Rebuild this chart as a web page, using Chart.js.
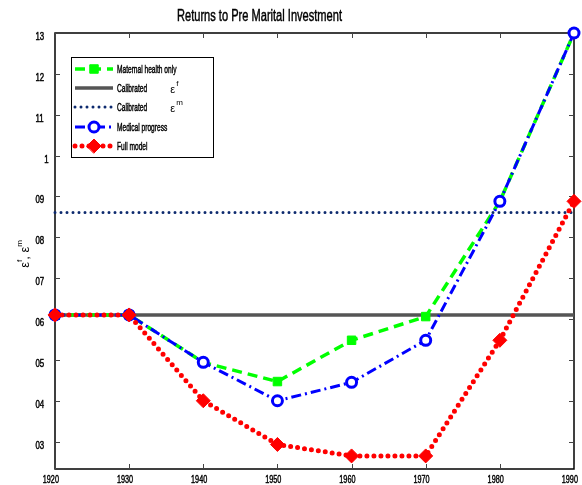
<!DOCTYPE html>
<html>
<head>
<meta charset="utf-8">
<script src="https://cdn.jsdelivr.net/npm/chart.js@4.4.1/dist/chart.umd.min.js"></script>
<style>
  html, body { margin: 0; padding: 0; background: #fff; }
  #wrap { width: 582px; height: 485px; }
</style>
</head>
<body>
<div id="wrap"><canvas id="chart" width="582" height="485"></canvas></div>
<script>
// values
const years = [1920, 1930, 1940, 1950, 1960, 1970, 1980, 1990]
const maternalHealth = [0.61, 0.61, 0.494, 0.447, 0.548, 0.606, 0.888, 1.30]
const medicalProgress = [0.61, 0.61, 0.494, 0.40, 0.445, 0.548, 0.888, 1.30]
const fullModel = [0.61, 0.61, 0.40, 0.293, 0.265, 0.265, 0.548, 0.888]
const calibratedEpsF = 0.61
const calibratedEpsM = 0.861

const yTicks = [0.3, 0.4, 0.5, 0.6, 0.7, 0.8, 0.9, 1, 1.1, 1.2, 1.3]
const yTickLabels = ['03', '04', '05', '06', '07', '08', '09', '1', '11', '12', '13']
const xTickLabels = ['1920', '1930', '1940', '1950', '1960', '1970', '1980', '1990']
const titleText = 'Returns to Pre Marital Investment'
const legendLabels = ['Maternal health only', 'Calibrated', 'Calibrated', 'Medical progress', 'Full model']
const legendSymbols = [null, 'f', 'm', null, null]

const FONT = '"Liberation Sans", Arial, sans-serif'

function textWidth(ctx, text, px) {
  ctx.save()
  ctx.font = px + 'px ' + FONT
  const w = ctx.measureText(text).width
  ctx.restore()
  return w
}

// the reference renders its text horizontally squeezed, left anchored
function squish(ctx, text, x, y, px, sx) {
  ctx.save()
  ctx.font = px + 'px ' + FONT
  ctx.textAlign = 'left'
  ctx.textBaseline = 'alphabetic'
  ctx.translate(x, y)
  ctx.scale(sx, 1)
  ctx.fillText(text, 0, 0)
  ctx.strokeStyle = ctx.fillStyle
  ctx.lineWidth = 0.45
  ctx.strokeText(text, 0, 0)
  ctx.restore()
}

const pts = vals => years.map((yr, i) => ({x: yr, y: vals[i]}))
const flat = v => [{x: years[0], y: v}, {x: years[years.length - 1], y: v}]

const datasets = [
  {
    label: legendLabels[0], data: pts(maternalHealth), order: 3,
    borderColor: '#00ff00', borderWidth: 3.5, borderDash: [10, 6],
    pointStyle: 'rect', pointRadius: 6, pointBackgroundColor: '#00ff00', pointBorderColor: '#00ff00', pointBorderWidth: 1
  },
  {
    label: legendLabels[1], data: flat(calibratedEpsF), order: 5,
    borderColor: '#555555', borderWidth: 3.5, pointRadius: 0
  },
  {
    label: legendLabels[2], data: flat(calibratedEpsM), order: 4,
    borderColor: '#0d2a6e', borderWidth: 3, borderDash: [0, 6], borderCapStyle: 'round', pointRadius: 0
  },
  {
    label: legendLabels[3], data: pts(medicalProgress), order: 2,
    borderColor: '#0000ff', borderWidth: 3, borderDash: [10, 4, 2, 4],
    pointStyle: 'circle', pointRadius: 5, pointBackgroundColor: '#ffffff', pointBorderColor: '#0000ff', pointBorderWidth: 3
  },
  {
    label: legendLabels[4], data: pts(fullModel), order: 1,
    borderColor: '#ff0000', borderWidth: 5, borderDash: [0, 7], borderCapStyle: 'round',
    pointStyle: 'rectRot', pointRadius: 7, pointBackgroundColor: '#ff0000', pointBorderColor: '#ff0000', pointBorderWidth: 1
  }
]

const axesBox = {
  id: 'axesBox',
  beforeDatasetsDraw(chart) {
    const {ctx, chartArea: a, scales: {x, y}} = chart
    ctx.save()
    ctx.strokeStyle = '#000'
    ctx.lineWidth = 1.5
    ctx.strokeRect(a.left, a.top, a.right - a.left, a.bottom - a.top)
    ctx.lineWidth = 1
    ctx.strokeStyle = '#444'
    ctx.beginPath()
    years.forEach(v => {
      const px = Math.round(x.getPixelForValue(v)) + 0.5
      ctx.moveTo(px, a.bottom); ctx.lineTo(px, a.bottom - 5)
      ctx.moveTo(px, a.top); ctx.lineTo(px, a.top + 5)
    })
    yTicks.forEach(v => {
      const py = Math.round(y.getPixelForValue(v)) + 0.5
      ctx.moveTo(a.left, py); ctx.lineTo(a.left + 5, py)
      ctx.moveTo(a.right, py); ctx.lineTo(a.right - 5, py)
    })
    ctx.stroke()

    ctx.fillStyle = '#000'
    years.forEach((v, i) => {
      const px = x.getPixelForValue(v)
      squish(ctx, xTickLabels[i], px - textWidth(ctx, String(v), 11) / 2, a.bottom + 14, 11, 0.66)
    })
    yTicks.forEach((v, i) => {
      const py = y.getPixelForValue(v)
      squish(ctx, yTickLabels[i], a.left - 5 - textWidth(ctx, String(v), 10.5), py + 7, 10.5, 0.75)
    })
    ctx.restore()
  }
}

function drawSample(ctx, ds, x0, x1, yy) {
  ctx.save()
  ctx.strokeStyle = ds.borderColor
  ctx.lineWidth = ds.borderWidth
  ctx.lineCap = ds.borderCapStyle || 'butt'
  ctx.setLineDash(ds.borderDash || [])
  ctx.beginPath()
  ctx.moveTo(x0, yy)
  ctx.lineTo(x1, yy)
  ctx.stroke()
  ctx.setLineDash([])
  if (ds.pointRadius) {
    ctx.fillStyle = ds.pointBackgroundColor
    ctx.strokeStyle = ds.pointBorderColor
    ctx.lineWidth = ds.pointBorderWidth
    Chart.helpers.drawPoint(ctx, {pointStyle: ds.pointStyle, radius: ds.pointRadius, rotation: 0, borderWidth: ds.pointBorderWidth}, (x0 + x1) / 2, yy)
  }
  ctx.restore()
}

const decorations = {
  id: 'decorations',
  afterDraw(chart) {
    const {ctx} = chart
    ctx.save()
    ctx.fillStyle = '#000'

    // title, squeezed into the span it takes in the reference
    squish(ctx, titleText, 177, 21, 16, 165 / textWidth(ctx, titleText, 16))

    // y axis title: eps^f, eps^m
    ctx.save()
    ctx.translate(29, 254)
    ctx.rotate(-Math.PI / 2)
    ctx.textBaseline = 'alphabetic'
    const parts = [['\u03b5', 13, 0], ['f', 8, -7], [', ', 13, 0], ['\u03b5', 13, 0], ['m', 8, -7]]
    let total = parts.reduce((s, p) => s + textWidth(ctx, p[0], p[1]), 0)
    let cur = -total / 2
    parts.forEach(p => {
      ctx.font = p[1] + 'px ' + FONT
      ctx.fillText(p[0], cur, p[2])
      cur += textWidth(ctx, p[0], p[1])
    })
    ctx.restore()

    // legend
    const lx = 71, ly = 57, lw = 142, lh = 100
    ctx.fillStyle = '#fff'
    ctx.fillRect(lx, ly, lw, lh)
    ctx.strokeStyle = '#000'
    ctx.lineWidth = 1
    ctx.strokeRect(lx + 0.5, ly + 0.5, lw, lh)
    const rows = [69, 88, 107, 127, 146]
    datasets.forEach((ds, r) => {
      drawSample(ctx, ds, 75, 113, rows[r])
      ctx.fillStyle = '#000'
      squish(ctx, legendLabels[r], 117, rows[r] + 4, 11, 0.6)
      if (legendSymbols[r]) {
        const ex = 117 + textWidth(ctx, legendLabels[r] + ' ', 11)
        ctx.font = '11px ' + FONT
        ctx.fillText('\u03b5', ex, rows[r] + 5)
        ctx.font = '8px ' + FONT
        ctx.fillText(legendSymbols[r], ex + 6, rows[r] - 2)
      }
    })
    ctx.restore()
  }
}

new Chart(document.getElementById('chart'), {
  type: 'line',
  data: {datasets: datasets},
  options: {
    responsive: false,
    animation: false,
    layout: {padding: {left: 55, right: 4, top: 33, bottom: 16}},
    elements: {line: {tension: 0}},
    datasets: {line: {clip: false}},
    scales: {
      x: {type: 'linear', min: 1920, max: 1990, display: false},
      y: {type: 'linear', min: 0.233, max: 1.3, display: false}
    },
    plugins: {legend: {display: false}, tooltip: {enabled: false}, title: {display: false}}
  },
  plugins: [axesBox, decorations]
})
</script>
</body>
</html>
